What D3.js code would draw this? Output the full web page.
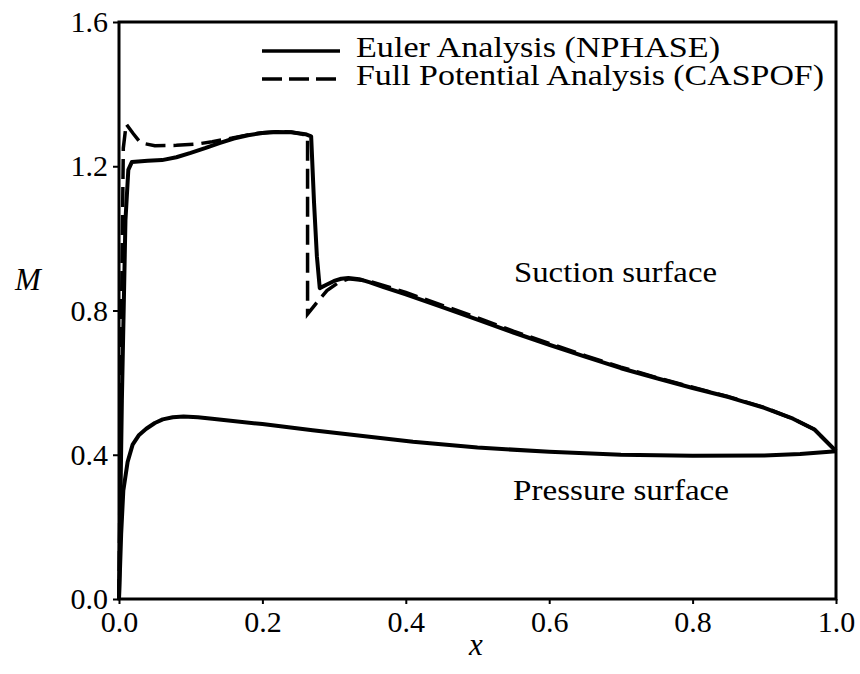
<!DOCTYPE html>
<html>
<head>
<meta charset="utf-8">
<script src="https://cdn.jsdelivr.net/npm/d3@7"></script>
<style>
  body { margin: 0; background: #fff; }
  text { font-family: "Liberation Serif", "Times New Roman", serif; fill: #000; }
</style>
</head>
<body>
<script>
// Mach number along the chord
var eulerSuction = [
  [0, 0], [0.004, 0.55], [0.009, 1.05], [0.013, 1.19], [0.018, 1.212], [0.04, 1.215],
  [0.06, 1.217], [0.08, 1.225], [0.1, 1.237], [0.12, 1.25], [0.14, 1.264], [0.16, 1.277],
  [0.18, 1.286], [0.2, 1.292], [0.22, 1.295], [0.24, 1.294], [0.26, 1.289], [0.268, 1.283],
  [0.272, 1.1], [0.276, 0.95], [0.28, 0.862], [0.29, 0.872], [0.3, 0.882], [0.31, 0.888],
  [0.32, 0.89], [0.335, 0.887], [0.35, 0.878], [0.37, 0.864], [0.4, 0.845], [0.45, 0.81],
  [0.5, 0.775], [0.55, 0.739], [0.6, 0.705], [0.65, 0.672], [0.7, 0.64], [0.75, 0.612],
  [0.8, 0.585], [0.85, 0.56], [0.9, 0.53], [0.94, 0.5], [0.97, 0.47], [1.0, 0.41]
];

var potentialSuction = [
  [0, 0], [0.003, 0.7], [0.006, 1.25], [0.01, 1.317], [0.02, 1.29], [0.03, 1.265],
  [0.05, 1.257], [0.08, 1.258], [0.11, 1.262], [0.13, 1.268], [0.16, 1.279], [0.18, 1.287],
  [0.2, 1.293], [0.22, 1.296], [0.24, 1.295], [0.256, 1.289], [0.263, 1.282], [0.263, 0.79],
  [0.275, 0.82], [0.29, 0.855], [0.305, 0.876], [0.32, 0.888], [0.35, 0.881], [0.4, 0.85],
  [0.45, 0.815], [0.5, 0.78], [0.55, 0.743], [0.6, 0.709], [0.65, 0.675], [0.7, 0.643],
  [0.75, 0.614], [0.8, 0.587], [0.85, 0.561], [0.9, 0.531], [0.94, 0.5], [0.97, 0.47], [1.0, 0.41]
];

var eulerPressure = [
  [0, 0], [0.003, 0.18], [0.006, 0.3], [0.012, 0.38], [0.019, 0.428], [0.028, 0.455],
  [0.038, 0.472], [0.05, 0.488], [0.061, 0.498], [0.075, 0.504], [0.09, 0.506], [0.11, 0.504],
  [0.13, 0.5], [0.2, 0.485], [0.27, 0.468], [0.34, 0.452], [0.41, 0.436], [0.5, 0.42],
  [0.6, 0.408], [0.7, 0.4], [0.8, 0.397], [0.9, 0.398], [0.95, 0.402], [1.0, 0.41]
];

var xTicks = [0, 0.2, 0.4, 0.6, 0.8, 1.0];
var yTicks = [0, 0.4, 0.8, 1.2, 1.6];
var legendLabels = ['Euler Analysis (NPHASE)', 'Full Potential Analysis (CASPOF)'];

var width = 860,
    height = 674;

var svg = d3.select('body').append('svg')
    .attr('width', width)
    .attr('height', height);

var x = d3.scaleLinear().domain([0, 1]).range([119, 836]);
var y = d3.scaleLinear().domain([0, 1.6]).range([599, 22]);

// frame
svg.append('rect')
    .attr('x', x(0))
    .attr('y', y(1.6))
    .attr('width', x(1) - x(0))
    .attr('height', y(0) - y(1.6))
    .attr('fill', 'none')
    .attr('stroke', '#000')
    .attr('stroke-width', 3);

var xAxis = svg.append('g')
    .attr('transform', 'translate(0,' + y(0) + ')')
    .call(d3.axisBottom(x).tickValues(xTicks).tickFormat(d3.format('.1f')).tickSize(5).tickPadding(7));

var yAxis = svg.append('g')
    .attr('transform', 'translate(' + x(0) + ',0)')
    .call(d3.axisLeft(y).tickValues(yTicks).tickFormat(d3.format('.1f')).tickSize(6).tickPadding(5));

[xAxis, yAxis].forEach(function(g) {
  g.select('.domain').remove();
  g.selectAll('line').attr('stroke', '#000').attr('stroke-width', 2);
  g.selectAll('text')
    .style('font-family', '"Liberation Serif", serif')
    .style('font-size', '30px')
    .attr('fill', '#000');
});

var line = d3.line()
    .x(function(d) { return x(d[0]); })
    .y(function(d) { return y(d[1]); });

svg.append('path')
    .datum(potentialSuction)
    .attr('d', line)
    .attr('fill', 'none')
    .attr('stroke', '#000')
    .attr('stroke-width', 3.5)
    .attr('stroke-dasharray', '20,8');

[eulerSuction, eulerPressure].forEach(function(data) {
  svg.append('path')
      .datum(data)
      .attr('d', line)
      .attr('fill', 'none')
      .attr('stroke', '#000')
      .attr('stroke-width', 4)
      .attr('stroke-linejoin', 'round');
});

// legend (text widened a bit to look like the original's Computer Modern)
var legendWidths = [364, 468];
var legend = svg.append('g');
legendLabels.forEach(function(label, i) {
  var ly = 51 + i * 28;
  legend.append('line')
      .attr('x1', 262).attr('x2', 340)
      .attr('y1', ly).attr('y2', ly)
      .attr('stroke', '#000')
      .attr('stroke-width', 3.5)
      .attr('stroke-dasharray', i === 0 ? null : '20,7');
  legend.append('text')
      .attr('x', 356)
      .attr('y', ly + 6)
      .attr('textLength', legendWidths[i])
      .attr('lengthAdjust', 'spacingAndGlyphs')
      .style('font-size', '30px')
      .text(label);
});

// annotations
svg.append('text')
    .attr('x', 514).attr('y', 282)
    .attr('textLength', 203)
    .attr('lengthAdjust', 'spacingAndGlyphs')
    .style('font-size', '30px')
    .text('Suction surface');

svg.append('text')
    .attr('x', 513).attr('y', 500)
    .attr('textLength', 216)
    .attr('lengthAdjust', 'spacingAndGlyphs')
    .style('font-size', '30px')
    .text('Pressure surface');

svg.append('text')
    .attr('x', 28).attr('y', 290)
    .attr('text-anchor', 'middle')
    .style('font-size', '31px')
    .style('font-style', 'italic')
    .text('M');

svg.append('text')
    .attr('x', 476).attr('y', 655)
    .attr('text-anchor', 'middle')
    .style('font-size', '31px')
    .style('font-style', 'italic')
    .text('x');
</script>
</body>
</html>
